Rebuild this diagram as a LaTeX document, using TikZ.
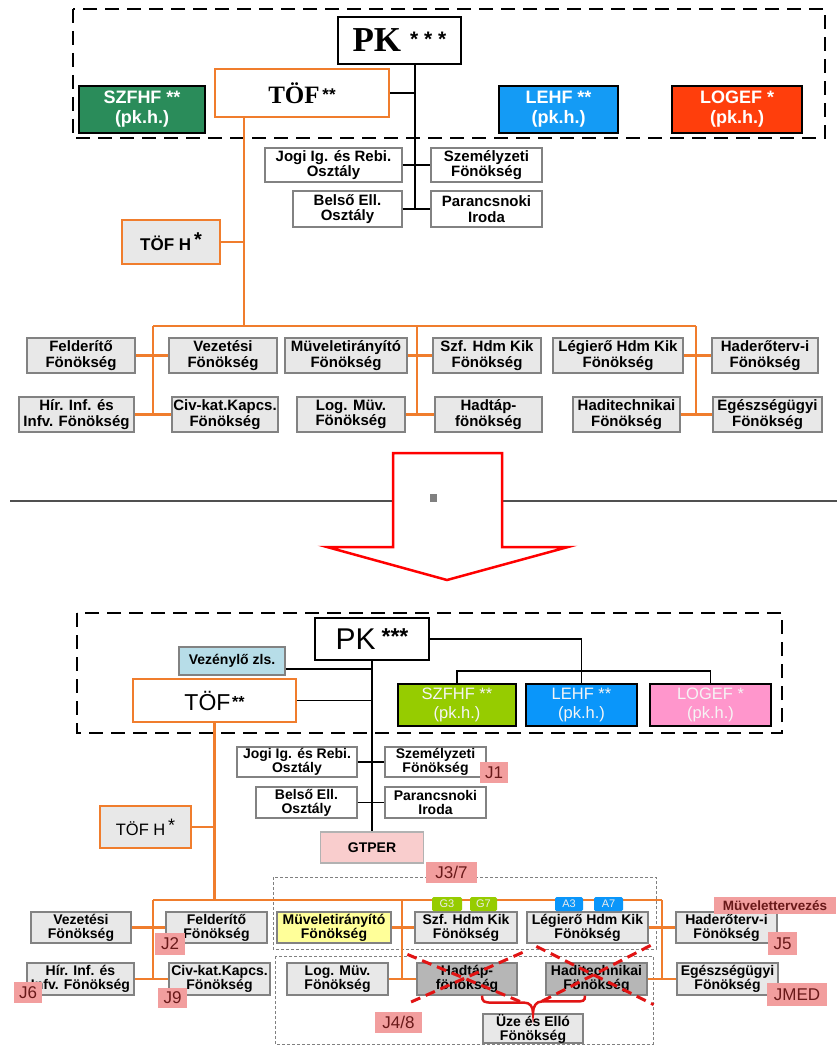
\documentclass[tikz,border=0pt]{standalone}
\usepackage{fontspec}
\setmainfont{Liberation Serif}
\setsansfont{Liberation Sans}
\definecolor{org}{RGB}{240,125,45}
\definecolor{boxgr}{RGB}{130,130,130}
\definecolor{boxfill}{RGB}{232,232,232}
\definecolor{darkfill}{RGB}{182,182,182}
\definecolor{szgreen}{RGB}{42,140,90}
\definecolor{lhblue}{RGB}{20,155,245}
\definecolor{lgred}{RGB}{255,62,12}
\definecolor{lime}{RGB}{150,204,0}
\definecolor{skyb}{RGB}{10,150,250}
\definecolor{pinkl}{RGB}{255,150,204}
\definecolor{lblue}{RGB}{183,221,232}
\definecolor{ylw}{RGB}{255,255,153}
\definecolor{gtp}{RGB}{249,205,205}
\definecolor{jpink}{RGB}{242,158,158}
\definecolor{jtext}{RGB}{105,25,25}
\definecolor{xred}{RGB}{225,20,20}
\definecolor{sepgr}{RGB}{80,80,80}
\begin{document}
\begin{tikzpicture}[x=1pt,y=-1pt,line join=miter,font=\sffamily,
  wh/.style 2 args={minimum width=#1pt,minimum height=#2pt},
  box/.style={draw=boxgr,line width=1.2pt,fill=boxfill,align=center,inner sep=0pt,font=\sffamily\bfseries\fontsize{15}{15.5}\selectfont},
  sbox/.style={box,font=\sffamily\bfseries\fontsize{14}{14}\selectfont},
  wbox/.style={box,fill=white},
  swbox/.style={sbox,fill=white},
  chief/.style={draw=black,line width=1.6pt,fill=white,inner sep=0pt},
  obox/.style={draw=org,line width=2.2pt,inner sep=0pt,align=center},
  cmdA/.style={draw=black,line width=2pt,align=center,inner sep=0pt,text=white,font=\sffamily\bfseries\fontsize{18}{20}\selectfont},
  cmdB/.style={draw=black,line width=2pt,align=center,inner sep=0pt,text=white!92!gray,font=\sffamily\fontsize{16.5}{19}\selectfont},
  jtag/.style={fill=jpink,text=jtext,inner sep=0pt,font=\sffamily\fontsize{17}{17}\selectfont},
  tab/.style={inner sep=0pt,rounded corners=1.5pt,text=white!85!gray,minimum height=14pt,font=\sffamily\fontsize{11}{11}\selectfont},
  blk/.style={line width=1.6pt},
  orl/.style={draw=org,line width=2.2pt},
  frame/.style={line width=2.6pt,dash pattern=on 14pt off 8pt},
  dotbox/.style={draw=gray,line width=0.8pt,dash pattern=on 3pt off 2pt},
  cross/.style={draw=xred,line width=3pt,dash pattern=on 10pt off 6pt},
  brace/.style={draw=xred,line width=2.5pt}]
\fill[white] (0,0) rectangle (837,1046);
\useasboundingbox (0,0) rectangle (837,1046);

% regi
\draw[frame] (73,9) rectangle (825,138);
\node[chief,wh={123}{47}] (pkA) at (399.5,40.5) {{\rmfamily\bfseries\fontsize{35}{35}\selectfont PK}\hspace{9pt}\raisebox{5pt}{\bfseries\fontsize{21}{21}\selectfont * * *}};
\node[obox,fill=white,wh={174}{48}] (tofA) at (302,93) {{\rmfamily\bfseries\fontsize{25}{25}\selectfont TÖF}\ \raisebox{3pt}{\bfseries\fontsize{17}{17}\selectfont **}};
\node[cmdA,fill=szgreen,wh={126}{47}] (szfhfA) at (142,109.5) {SZFHF **\\(pk.h.)};
\node[cmdA,fill=lhblue,wh={119}{47}] (lehfA) at (558.5,109.5) {LEHF **\\(pk.h.)};
\node[cmdA,fill=lgred,wh={130}{47}] (logefA) at (737,109.5) {LOGEF *\\(pk.h.)};
\node[wbox,wh={137}{34}] (jogiA) at (333.5,165) {Jogi Ig. és Rebi.\\Osztály};
\node[wbox,wh={111}{34}] (szemA) at (486.5,165) {Személyzeti\\Fönökség};
\node[wbox,wh={109}{36}] (belsoA) at (347.5,209) {Belső Ell.\\Osztály};
\node[wbox,wh={111}{36}] (parA) at (486.5,209) {Parancsnoki\\Iroda};
\node[obox,fill=boxfill,wh={98}{44},font=\sffamily\bfseries\fontsize{17}{17}\selectfont] (tofhA) at (171,242) {TÖF H\,\raisebox{4pt}{\fontsize{20}{20}\selectfont *}};
\node[box,wh={108}{35}] (feldA) at (81,355.5) {Felderítő\\Fönökség};
\node[box,wh={108}{35}] (vezA) at (223,355.5) {Vezetési\\Fönökség};
\node[box,wh={122}{35}] (mutA) at (346,355.5) {Müveletirányító\\Fönökség};
\node[box,wh={108}{35}] (szfA) at (487,355.5) {Szf. Hdm Kik\\Fönökség};
\node[box,wh={130}{35}] (legA) at (618,355.5) {Légierő Hdm Kik\\Fönökség};
\node[box,wh={106}{35}] (hadA) at (765,355.5) {Haderőterv-i\\Fönökség};
\node[box,wh={115}{35}] (hirA) at (76.5,414.5) {Hír. Inf. és\\Infv. Fönökség};
\node[box,wh={106}{35}] (civA) at (225,414.5) {Civ-kat.Kapcs.\\Fönökség};
\node[box,wh={108}{35}] (logA) at (351,414.5) {Log. Müv.\\Fönökség};
\node[box,wh={107}{35}] (hadtapA) at (488.5,414.5) {Hadtáp-\\fönökség};
\node[box,wh={107}{35}] (haditA) at (626.5,414.5) {Haditechnikai\\Fönökség};
\node[box,wh={109}{35}] (egesA) at (767.5,414.5) {Egészségügyi\\Fönökség};

\coordinate (tA) at (415,209);
\draw[blk] (pkA.south -| tA) -- (tA);
\draw[blk] (tofA.east) -- (tofA.east -| tA);
\draw[blk] (jogiA.east) -- (szemA.west) (belsoA.east) -- (parA.west);
\coordinate (oA) at (244,326);
\coordinate (lA) at (153,326);
\coordinate (mA) at (417,326);
\coordinate (rA) at (696,326);
\draw[orl] (tofA.south -| oA) -- (oA) (tofhA.east) -- (tofhA.east -| oA);
\draw[orl] (lA) -- (rA);
\draw[orl] (lA) -- (lA |- hirA.east) (mA) -- (mA |- logA.east) (rA) -- (rA |- haditA.east);
\draw[orl] (feldA.east) -- (vezA.west) (hirA.east) -- (civA.west) (mutA.east) -- (szfA.west) (logA.east) -- (hadtapA.west) (legA.east) -- (hadA.west) (haditA.east) -- (egesA.west);

% nyil
\draw[sepgr,line width=1.5pt] (10,501) -- (837,501);
\draw[red,line width=2.5pt,fill=white] (393,453) -- (502,453) -- (502,547) -- (568,547) -- (447,580) -- (327,547) -- (393,547) -- cycle;
\fill[gray] (430,494) rectangle (437,502);

% uj
\draw[frame] (77,613) rectangle (782,733);
\node[chief,wh={114}{42}] (pkB) at (372,639) {{\fontsize{30}{30}\selectfont PK}\hspace{6pt}\raisebox{5pt}{\bfseries\fontsize{23}{23}\selectfont ***}};
\node[sbox,fill=lblue,wh={106}{28}] (vezlB) at (232,661) {Vezénylő zls.};
\node[obox,fill=white,wh={163}{43}] (tofB) at (214.5,700.5) {{\fontsize{23}{23}\selectfont TÖF}\,\raisebox{3pt}{\bfseries\fontsize{16}{16}\selectfont **}};
\node[cmdB,fill=lime,wh={118}{42}] (szfhfB) at (457,705) {SZFHF **\\(pk.h.)};
\node[cmdB,fill=skyb,wh={111}{42}] (lehfB) at (581.5,705) {LEHF **\\(pk.h.)};
\node[cmdB,fill=pinkl,wh={121}{42}] (logefB) at (710.5,705) {LOGEF *\\(pk.h.)};
\node[swbox,wh={120}{30}] (jogiB) at (297,762) {Jogi Ig. és Rebi.\\Osztály};
\node[swbox,wh={101}{30}] (szemB) at (435.5,762) {Személyzeti\\Fönökség};
\node[swbox,wh={101}{31}] (belsoB) at (306.5,802.5) {Belső Ell.\\Osztály};
\node[swbox,wh={101}{31}] (parB) at (435.5,802.5) {Parancsnoki\\Iroda};
\node[obox,fill=boxfill,wh={91}{42},font=\sffamily\fontsize{16.5}{16.5}\selectfont] (tofhB) at (145.5,827) {TÖF H\,\raisebox{4pt}{\fontsize{18}{18}\selectfont *}};
\node[sbox,fill=gtp,draw=gray!60,wh={103}{31}] (gtperB) at (372,847.5) {GTPER};
\draw[dotbox] (273,877) rectangle (656,949);
\draw[dotbox] (275,956) rectangle (653,1044);
\node[sbox,wh={100}{31}] (vezB) at (81,927.5) {Vezetési\\Fönökség};
\node[sbox,wh={101}{31}] (feldB) at (216.5,927.5) {Felderítő\\Fönökség};
\node[sbox,fill=ylw,wh={114}{31}] (mutB) at (334,927.5) {Müveletirányító\\Fönökség};
\node[sbox,wh={102}{31}] (szfB) at (466,927.5) {Szf. Hdm Kik\\Fönökség};
\node[sbox,wh={121}{31}] (legB) at (587.5,927.5) {Légierő Hdm Kik\\Fönökség};
\node[sbox,wh={101}{31}] (hadB) at (726.5,927.5) {Haderőterv-i\\Fönökség};
\node[sbox,wh={107}{32}] (hirB) at (80.5,979) {Hír. Inf. és\\Infv. Fönökség};
\node[sbox,wh={101}{32}] (civB) at (219.5,979) {Civ-kat.Kapcs.\\Fönökség};
\node[sbox,wh={101}{32}] (logB) at (337.5,979) {Log. Müv.\\Fönökség};
\node[sbox,fill=darkfill,wh={100}{32}] (hadtapB) at (467,979) {Hadtáp-\\fönökség};
\node[sbox,fill=darkfill,wh={101}{32}] (haditB) at (596.5,979) {Haditechnikai\\Fönökség};
\node[sbox,wh={101}{32}] (egesB) at (727.5,979) {Egészségügyi\\Fönökség};
\node[sbox,wh={100}{29}] (uzeB) at (533,1028.5) {Üze és Elló\\Fönökség};

\draw[blk] (pkB.south) -- (pkB.south |- gtperB.north);
\draw[blk] ([yshift=-8pt]vezlB.east) -- ([yshift=-8pt]vezlB.east -| pkB.south);
\draw[blk] (tofB.east) -- (tofB.east -| pkB.south);
\draw[blk] (pkB.east) -| (lehfB.north);
\coordinate (bB) at (0,671);
\draw[blk] (szfhfB.north) -- (szfhfB.north |- bB) -- (logefB.north |- bB) -- (logefB.north);
\draw[blk] (jogiB.east) -- (szemB.west) (belsoB.east) -- (parB.west);
\coordinate (lB) at (153,900);
\coordinate (mB) at (402,900);
\coordinate (rB) at (662,900);
\draw[orl] (tofB.south) -- (tofB.south |- lB) (tofhB.east) -- (tofhB.east -| tofB.south);
\draw[orl] (lB) -- (rB);
\draw[orl] (lB) -- (lB |- hirB.east) (mB) -- (mB |- logB.east) (rB) -- (rB |- haditB.east);
\draw[orl] (vezB.east) -- (feldB.west) (hirB.east) -- (civB.west) (mutB.east) -- (szfB.west) (logB.east) -- (hadtapB.west) (legB.east) -- (hadB.west) (haditB.east) -- (egesB.west);

\node[tab,fill=lime,minimum width=30pt] (g3) at (447,904) {G3};
\node[tab,fill=lime,minimum width=27pt] (g7) at (483.5,904) {G7};
\node[tab,fill=skyb,minimum width=28pt] (a3) at (569,904) {A3};
\node[tab,fill=skyb,minimum width=29pt] (a7) at (608.5,904) {A7};
\node[jtag,wh={28}{21}] (j1) at (494,772.5) {J1};
\node[jtag,wh={51}{21}] (j37) at (451.5,872.5) {J3/7};
\node[jtag,wh={30}{22}] (j2) at (170,944) {J2};
\node[jtag,wh={28}{21}] (j6) at (28,992.5) {J6};
\node[jtag,wh={29}{20}] (j9) at (172.5,998) {J9};
\node[jtag,wh={47}{21}] (j48) at (398.5,1022.5) {J4/8};
\node[jtag,wh={29}{23}] (j5) at (782.5,943.5) {J5};
\node[jtag,wh={60}{23}] (jmed) at (797,994.5) {JMED};
\node[jtag,wh={122}{17},font=\sffamily\bfseries\fontsize{13.5}{13.5}\selectfont] (muvt) at (775,905.5) {Müvelettervezés};

\draw[cross] ([xshift=-9pt,yshift=8pt]hadtapB.north west) -- ([xshift=5pt,yshift=-7pt]hadtapB.south east);
\draw[cross] ([xshift=5pt,yshift=10pt]hadtapB.north east) -- ([xshift=-9pt,yshift=-8pt]hadtapB.south west);
\draw[cross] ([xshift=-9pt,yshift=16pt]haditB.north west) -- ([xshift=6pt,yshift=-9pt]haditB.south east);
\draw[cross] ([xshift=3pt,yshift=17pt]haditB.north east) -- ([xshift=-6pt,yshift=-7pt]haditB.south west);
\draw[brace] ([xshift=15pt]hadtapB.south) .. controls +(0,6) and +(-8,0) .. ++(10,7) -- ++(32,0) .. controls +(6,0) and +(0,-7) .. (uzeB.north) .. controls +(0,-7) and +(-6,0) .. ++(9,-12) -- ++(33,0) .. controls +(8,0) and +(0,6) .. ([xshift=-11.5pt]haditB.south);
\end{tikzpicture}
\end{document}
